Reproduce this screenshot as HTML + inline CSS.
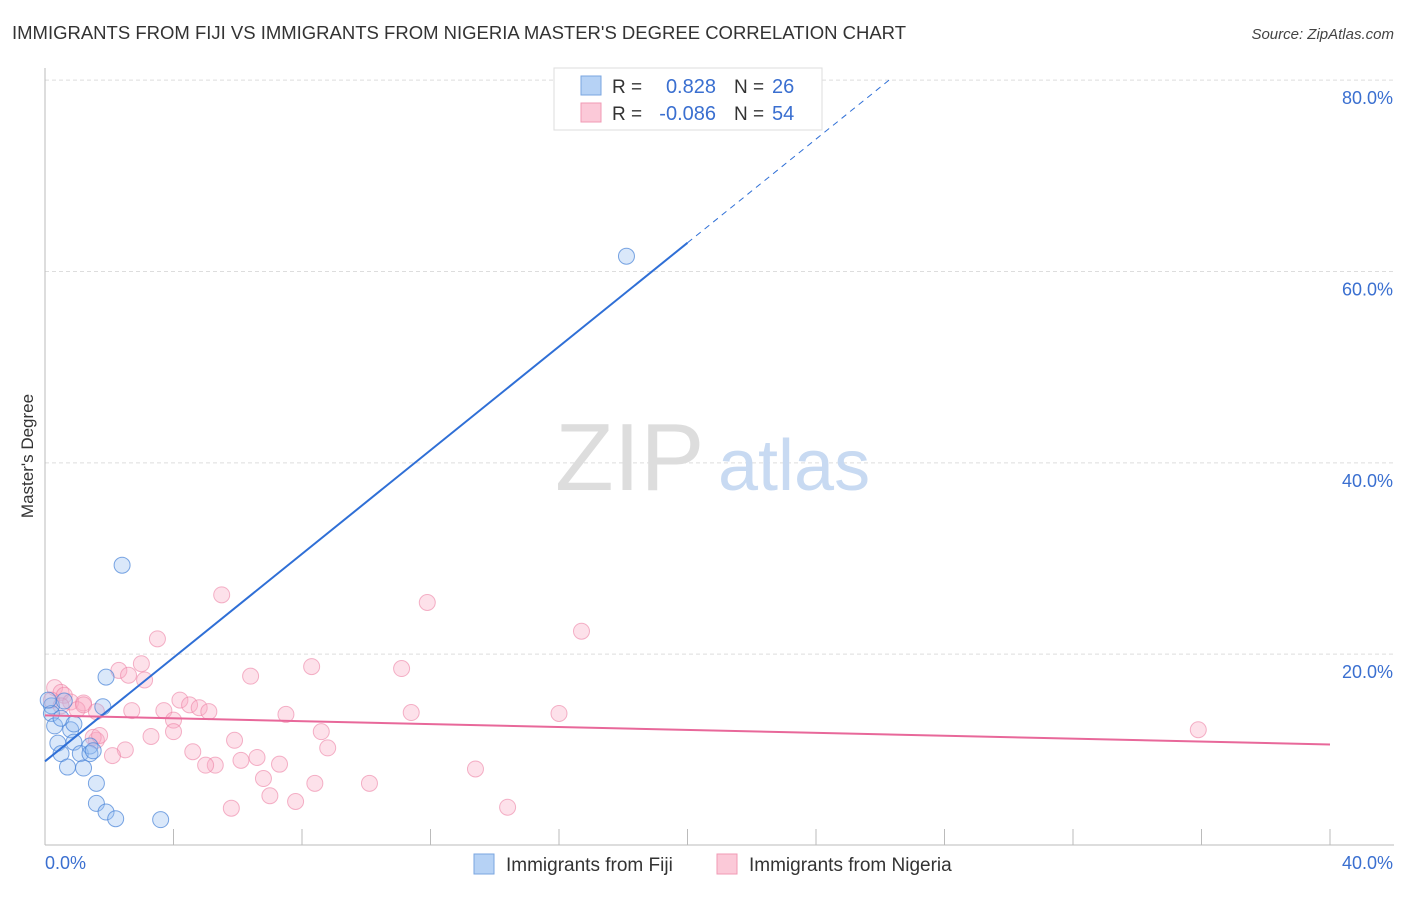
<!DOCTYPE html>
<html><head><meta charset="utf-8"><style>
body{margin:0;background:#fff;font-family:"Liberation Sans",sans-serif;}
svg text{font-family:"Liberation Sans",sans-serif;}
</style></head><body>
<svg id="chart" width="1406" height="892" xmlns="http://www.w3.org/2000/svg">
<text x="12" y="39" font-size="18.5" fill="#333" textLength="894">IMMIGRANTS FROM FIJI VS IMMIGRANTS FROM NIGERIA MASTER'S DEGREE CORRELATION CHART</text>
<text x="1394" y="39" font-size="15" fill="#444" text-anchor="end" font-style="italic">Source: ZipAtlas.com</text>
<text transform="translate(33,456) rotate(-90)" font-size="17" fill="#333" text-anchor="middle">Master's Degree</text>
<g id="grid"></g>
<g><text x="555" y="490" font-size="96" fill="#ddd" font-family="Liberation Serif">ZIP</text><text x="718" y="490" font-size="72" fill="#c8daf2">atlas</text></g>
<g id="marks"></g>
<g>
<rect x="554" y="68" width="268" height="62" fill="#fff" stroke="#ddd"/>
<rect x="581" y="76" width="20" height="19" fill="#b6d2f5" stroke="#7aa6e0"/>
<rect x="581" y="103" width="20" height="19" fill="#fbc9d8" stroke="#f09ab4"/>
<text x="612" y="93" font-size="19" fill="#333">R =</text><text x="716" y="93" font-size="20" fill="#3a6fd0" text-anchor="end">0.828</text>
<text x="734" y="93" font-size="19" fill="#333">N =</text><text x="772" y="93" font-size="20" fill="#3a6fd0">26</text>
<text x="612" y="120" font-size="19" fill="#333">R =</text><text x="716" y="120" font-size="20" fill="#3a6fd0" text-anchor="end">-0.086</text>
<text x="734" y="120" font-size="19" fill="#333">N =</text><text x="772" y="120" font-size="20" fill="#3a6fd0">54</text>
</g>
<g>
<rect x="474" y="854" width="20" height="20" fill="#b6d2f5" stroke="#7aa6e0"/>
<text x="506" y="871" font-size="19" fill="#333">Immigrants from Fiji</text>
<rect x="717" y="854" width="20" height="20" fill="#fbc9d8" stroke="#f09ab4"/>
<text x="749" y="871" font-size="19" fill="#333">Immigrants from Nigeria</text>
</g>
</svg>
<script>
const fijiX=[18.1,2.4,1.9,1.8,0.2,0.2,0.6,0.3,0.4,0.8,0.5,0.9,1.1,1.4,1.4,0.7,1.2,1.6,1.6,1.9,2.2,3.6,1.5,0.1,0.5,0.9];
const fijiY=[61.6,29.3,17.6,14.5,14.6,13.8,15.1,12.5,10.7,12.1,9.6,10.8,9.6,10.4,9.6,8.2,8.1,6.5,4.4,3.5,2.8,2.7,9.9,15.2,13.3,12.7];
const nigX=[0.3,0.5,0.6,0.2,0.8,1.2,1.0,1.2,1.6,1.6,1.5,1.7,0.5,5.5,11.9,16.7,3.5,3.0,2.3,2.6,3.1,6.4,8.3,11.1,4.2,4.5,4.8,5.1,3.7,2.7,4.0,4.0,3.3,2.5,2.1,7.5,11.4,16.0,35.9,8.6,8.8,4.6,5.9,6.6,6.1,5.3,5.0,7.3,6.8,8.4,10.1,13.4,7.0,7.8,5.8,14.4];
const nigY=[16.5,16.0,15.7,15.2,15.0,14.9,14.2,14.7,14.0,11.0,11.3,11.5,14.6,26.2,25.4,22.4,21.6,19.0,18.3,17.8,17.3,17.7,18.7,18.5,15.2,14.7,14.4,14.0,14.1,14.1,13.1,11.9,11.4,10.0,9.4,13.7,13.9,13.8,12.1,11.9,10.2,9.8,11.0,9.2,8.9,8.4,8.4,8.5,7.0,6.5,6.5,8.0,5.2,4.6,3.9,4.0];
const fijiTrend=[8.8,2.71];
const nigTrend=[13.6,-0.076];
const yTicks=[20,40,60,80];
const yTickLabels=["20.0%","40.0%","60.0%","80.0%"];
const xTicks=[0,4,8,12,16,20,24,28,32,36,40];
const NS="http://www.w3.org/2000/svg";
const X=v=>45+v*32.125, Y=v=>845.5-v*9.5667;
function mk(tag,attrs,parent){const e=document.createElementNS(NS,tag);for(const k in attrs)e.setAttribute(k,attrs[k]);parent.appendChild(e);return e;}
const grid=document.getElementById('grid'), marks=document.getElementById('marks');
yTicks.forEach((t,i)=>{
 const l=mk('line',{x1:45,x2:1394,y1:Y(t),y2:Y(t),stroke:'#ddd','stroke-dasharray':'4,3'},grid);
 
 
 const tx=mk('text',{x:1393,y:Y(t)+24,'font-size':18,fill:'#3a6fd0','text-anchor':'end'},grid);
 tx.textContent=yTickLabels[i];
 
 
});
const ax=mk('line',{x1:45,x2:45,y1:68,y2:845,stroke:'#bbb'},grid);


const bx=mk('line',{x1:45,x2:1394,y1:845,y2:845,stroke:'#bbb'},grid);


xTicks.forEach(t=>{const l=mk('line',{x1:X(t),x2:X(t),y1:829,y2:845,stroke:'#bbb'},grid);
 
 });
const x0=mk('text',{x:45,y:869,'font-size':18,fill:'#3a6fd0'},grid);x0.textContent='0.0%';


const x1=mk('text',{x:1393,y:869,'font-size':18,fill:'#3a6fd0','text-anchor':'end'},grid);x1.textContent='40.0%';


nigX.forEach((v,i)=>{const c=mk('circle',{cx:X(v),cy:Y(nigY[i]),r:8,fill:'rgba(248,170,196,0.35)',stroke:'rgba(236,130,165,0.6)','stroke-width':1},marks);
 
 });
fijiX.forEach((v,i)=>{const c=mk('circle',{cx:X(v),cy:Y(fijiY[i]),r:8,fill:'rgba(150,190,240,0.35)',stroke:'rgba(70,130,215,0.7)','stroke-width':1},marks);
 
 });
const [fa,fb]=fijiTrend;
const fEnd=20, fTop=(80-fa)/fb;
const fl=mk('line',{x1:X(0),y1:Y(fa),x2:X(fEnd),y2:Y(fa+fb*fEnd),stroke:'#2f6fd6','stroke-width':2},marks);


const fd=mk('line',{x1:X(fEnd),y1:Y(fa+fb*fEnd),x2:X(fTop),y2:Y(80),stroke:'#2f6fd6','stroke-width':1,'stroke-dasharray':'6,5'},marks);


const [na,nb]=nigTrend;
const nl=mk('line',{x1:X(0),y1:Y(na),x2:X(40),y2:Y(na+nb*40),stroke:'#e8689a','stroke-width':2},marks);


</script>
</body></html>
